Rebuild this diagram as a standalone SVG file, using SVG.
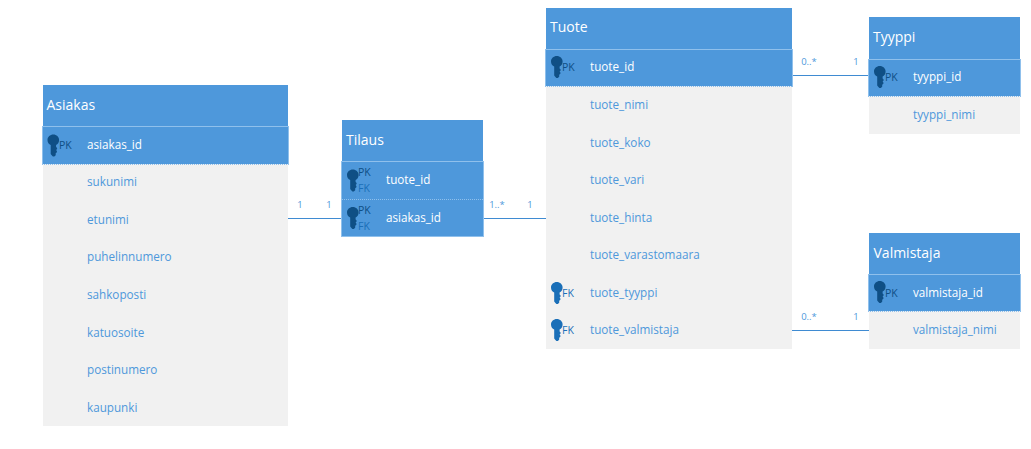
<svg xmlns="http://www.w3.org/2000/svg" width="1031" height="449" viewBox="0 0 1031 449">
<style>
text{font-family:"Open Sans","Noto Sans","Liberation Sans",sans-serif}
.h{fill:#4e98db}
.b{fill:#f1f1f1}
.pk{fill:#4e98db;stroke:#8fc0ec;stroke-width:1}
.sep{stroke:#f0f0f0;stroke-width:1;stroke-dasharray:1 1;fill:none}
.faint{stroke:#8fc0ec;stroke-width:1;stroke-dasharray:1 1;fill:none}
.t{font-size:14px;fill:#fff}
.f{font-size:11.700px;fill:#4e98db}
.w{font-size:11.700px;fill:#fff}
.kp{font-size:10.500px;fill:#0f4f85}
.kf{font-size:10.500px;fill:#1a6fb8}
.m{font-size:9.500px;fill:#4e98db;text-anchor:middle}
.c{stroke:#3f8bd2;stroke-width:1;fill:none}
.kd{fill:#0f4f85}
.kl{fill:#1a6fb8}
</style>
<defs>
<path id="key" d="M5.800 0C9 0 11.600 2.400 11.600 5.500C11.600 7.900 10.200 9.800 8.600 10.600V12.400L9.600 13.400V14.600L8.600 15.600L9.400 16.600V17.800L8.200 18.800V20.800L6.800 22H5.400L4.200 20.800L3.200 19.500V10.600C1.400 9.800 0 7.900 0 5.500C0 2.400 2.600 0 5.800 0Z"/>
</defs>
<g id="connectors">
<path class="c" d="M288 218.500H342"/>
<path class="c" d="M483 218.500H546"/>
<path class="c" d="M792 75.500H869"/>
<path class="c" d="M792 330.500H869"/>
<text class="m" x="300" y="208">1</text>
<text class="m" x="329" y="208">1</text>
<text class="m" x="497" y="208">1..*</text>
<text class="m" x="530" y="208">1</text>
<text class="m" x="809" y="65">0..*</text>
<text class="m" x="856" y="65">1</text>
<text class="m" x="809" y="320">0..*</text>
<text class="m" x="856" y="320">1</text>
</g>
<g id="asiakas">
<rect class="b" x="43" y="126" width="245" height="300"/>
<rect class="h" x="43" y="85" width="245" height="41"/>
<rect class="pk" x="42.500" y="126.500" width="246" height="38"/>
<path class="sep" d="M43 164.500H288"/>
<text class="t" x="46.500" y="110">Asiakas</text>
<use href="#key" class="kd" x="47.500" y="134.500"/>
<text class="kp" x="59" y="149">PK</text>
<text class="w" x="87" y="149">asiakas_id</text>
<text class="f" x="87" y="186">sukunimi</text>
<text class="f" x="87" y="224">etunimi</text>
<text class="f" x="87" y="261">puhelinnumero</text>
<text class="f" x="87" y="299">sahkoposti</text>
<text class="f" x="87" y="337">katuosoite</text>
<text class="f" x="87" y="374">postinumero</text>
<text class="f" x="87" y="412">kaupunki</text>
</g>
<g id="tilaus">
<rect class="h" x="342" y="120" width="141" height="41"/>
<rect class="pk" x="341.500" y="161.500" width="142" height="75"/>
<path class="faint" d="M342 199.500H483"/>
<text class="t" x="346" y="145">Tilaus</text>
<use href="#key" class="kd" x="347" y="169.500"/>
<text class="kp" x="358" y="176">PK</text>
<text class="kf" x="358" y="192">FK</text>
<text class="w" x="386" y="184">tuote_id</text>
<use href="#key" class="kd" x="347" y="207"/>
<text class="kp" x="358" y="214">PK</text>
<text class="kf" x="358" y="230">FK</text>
<text class="w" x="386" y="222">asiakas_id</text>
</g>
<g id="tuote">
<rect class="b" x="546" y="87" width="246" height="262"/>
<rect class="h" x="546" y="8" width="246" height="41"/>
<rect class="pk" x="545.500" y="49.500" width="247" height="37"/>
<path class="sep" d="M546 86.500H792"/>
<text class="t" x="550" y="32">Tuote</text>
<use href="#key" class="kd" x="551" y="56"/>
<text class="kp" x="562" y="71">PK</text>
<text class="w" x="590" y="71">tuote_id</text>
<text class="f" x="590" y="109">tuote_nimi</text>
<text class="f" x="590" y="147">tuote_koko</text>
<text class="f" x="590" y="184">tuote_vari</text>
<text class="f" x="590" y="222">tuote_hinta</text>
<text class="f" x="590" y="259">tuote_varastomaara</text>
<use href="#key" class="kl" x="551" y="282"/>
<text class="kf" x="562" y="297">FK</text>
<text class="f" x="590" y="297">tuote_tyyppi</text>
<use href="#key" class="kl" x="551" y="319"/>
<text class="kf" x="562" y="334">FK</text>
<text class="f" x="590" y="334">tuote_valmistaja</text>
</g>
<g id="tyyppi">
<rect class="b" x="869" y="97" width="151" height="37"/>
<rect class="h" x="869" y="17" width="151" height="42"/>
<rect class="pk" x="868.500" y="59.500" width="152" height="37"/>
<path class="sep" d="M869 96.500H1020"/>
<text class="t" x="873" y="42">Tyyppi</text>
<use href="#key" class="kd" x="874" y="66"/>
<text class="kp" x="885" y="81">PK</text>
<text class="w" x="913" y="81">tyyppi_id</text>
<text class="f" x="913" y="119">tyyppi_nimi</text>
</g>
<g id="valmistaja">
<rect class="b" x="869" y="312" width="151" height="37"/>
<rect class="h" x="869" y="233" width="151" height="41"/>
<rect class="pk" x="868.500" y="274.500" width="152" height="37"/>
<path class="sep" d="M869 311.500H1020"/>
<text class="t" x="873.500" y="258">Valmistaja</text>
<use href="#key" class="kd" x="874" y="281"/>
<text class="kp" x="885" y="297">PK</text>
<text class="w" x="913" y="297">valmistaja_id</text>
<text class="f" x="913" y="334">valmistaja_nimi</text>
</g>
</svg>
